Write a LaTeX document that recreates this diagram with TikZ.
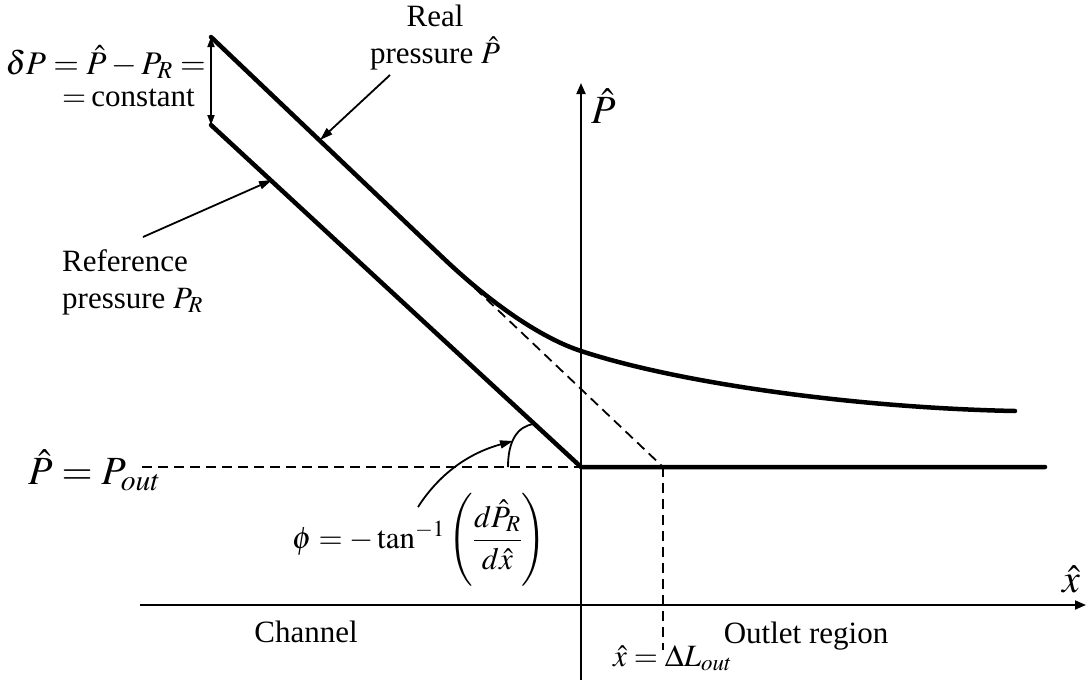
\documentclass[tikz,border=0pt]{standalone}
\usepackage{amsmath}
\usepackage{mathptmx}
\usepackage{fontspec}
\setmainfont{Liberation Serif}
\usetikzlibrary{arrows.meta}
\begin{document}
\begin{tikzpicture}[x=1pt,y=-1pt,
  thickline/.style={line width=4.5pt,line cap=round,line join=round},
  axisline/.style={line width=1.8pt,-{Triangle[length=11pt,width=9pt]}},
  dashline/.style={line width=1.8pt,dash pattern=on 10pt off 6pt},
  pointer/.style={line width=1.8pt,-{Triangle[length=13pt,width=8pt]}},
  lbl/.style={inner sep=0pt,font=\fontsize{31}{37}\selectfont},
  biglbl/.style={inner sep=0pt,font=\fontsize{40}{44}\selectfont}]
\useasboundingbox (0,0) rectangle (1086,683);
% key points
\coordinate (O) at (581,467);
\coordinate (R0) at (211,37);
\coordinate (R1) at (440,255);
\coordinate (Rm) at (581,351);
\coordinate (Rend) at (1015,411);
\coordinate (F0) at (211,125);
\coordinate (D) at (663,467);
\coordinate (Dbot) at (663,650);
\coordinate (Hend) at (1045,467);
\coordinate (Hstart) at (142,467);
\coordinate (Xl) at (140,605);
\coordinate (Xr) at (1086,605);
\coordinate (Yb) at (581,680);
\coordinate (Yt) at (581,83);
% axes
\draw[axisline] (Xl) -- (Xr);
\draw[axisline] (Yb) -- (Yt);
% dashed lines
\draw[dashline] (Hstart) -- (O);
\draw[dashline] (R1) -- (D);
\draw[dashline] (D) -- (Dbot);
% curves
\draw[thickline] (F0) -- (O) -- (Hend);
\draw[thickline] (R0) -- (R1) .. controls (490,303) and (541,338) .. (Rm)
  .. controls (681,384) and (860,408) .. (Rend);
% delta P arrow
\draw[line width=1.8pt,{Triangle[length=10pt,width=7pt]}-{Triangle[length=10pt,width=7pt]}] (R0) -- (F0);
% labels
\node[lbl,align=center] (real) at (435,38) {Real\\pressure $\hat{P}$};
\coordinate (realtip) at (390,75);
\coordinate (realend) at (320,140);
\draw[pointer] (realtip) -- (realend);
\node[lbl,align=left,anchor=base west] (ref) at (62,308) {Reference\\pressure $P_R$};
\coordinate (reftip) at (143,237);
\coordinate (refend) at (272,180);
\draw[pointer] (reftip) -- (refend);
\node[lbl,anchor=base east,font=\fontsize{33}{36}\selectfont] (dp) at (206,74) {$\delta P=\hat{P}-P_R=$};
\node[lbl,anchor=base west] (dpc) at (62,106) {$=$\,constant};
\node[biglbl,anchor=base west] (pout) at (28,484) {$\hat{P}=P_{out}$};
\node[lbl,anchor=base west] (phi) at (292,548) {$\phi=-\tan^{-1}\left(\dfrac{d\hat{P}_R}{d\hat{x}}\right)$};
\coordinate (phitip) at (418,507);
\coordinate (phiend) at (513,441);
\draw[pointer] (phitip) .. controls (445,465) and (480,450) .. (phiend);
\coordinate (a0) at (508,467);
\coordinate (a1) at (534,424);
\draw[line width=1.8pt] (a0) .. controls (508,440) and (518,426) .. (a1);
\node[lbl,anchor=base] (chan) at (306,642) {Channel};
\node[lbl,anchor=base] (outl) at (806,643) {Outlet region};
\node[lbl,anchor=base west] (dl) at (613,666) {$\hat{x}=\Delta L_{out}$};
\node[biglbl,anchor=base] (xh) at (1071,592) {$\hat{x}$};
\node[biglbl,anchor=base west] (ph) at (591,123) {$\hat{P}$};
\end{tikzpicture}
\end{document}
